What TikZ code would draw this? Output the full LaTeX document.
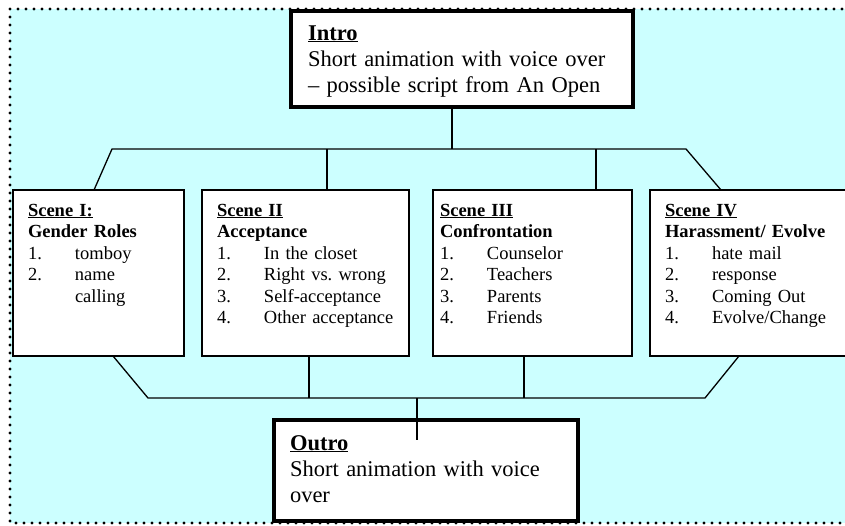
\documentclass[tikz,border=0pt]{standalone}
\usepackage{fontspec}
\setmainfont{Liberation Serif}
\usepackage{tikz}
\usetikzlibrary{positioning}
\definecolor{bgcyan}{HTML}{CCFFFF}
\newcommand{\hd}[1]{\underline{\textbf{#1}}}
\newcommand{\itm}[2]{\makebox[47pt][l]{#1}#2}
\frenchspacing

\begin{document}
\begin{tikzpicture}[x=1pt, y=-1pt,
    endbox/.style={draw, line width=3.2pt, fill=white, anchor=north west, outer sep=0pt,
      inner ysep=0pt, align=left, font=\fontsize{22.5pt}{26pt}\selectfont},
    scenebox/.style={draw, line width=2pt, fill=white, anchor=north west, outer sep=0pt,
      inner ysep=0pt, align=left, text height=26pt, text depth=140pt,
      font=\fontsize{18.5pt}{21.5pt}\selectfont},
    link/.style={line width=1.3pt},
    dotborder/.style={line width=3.2pt, dash pattern=on 0pt off 8pt, line cap=round}]
  \useasboundingbox (0,0) rectangle (845,525);

  % Background
  \fill[bgcyan] (10,9) rectangle (850,523);
  \draw[dotborder] (850,9) -- (10,9) -- (10,523) -- (850,523);

  % Intro and outro
  \node[endbox, inner xsep=17pt, text width=308pt, text height=29pt, text depth=67pt]
    (intro) at (291,11) {\hd{Intro}\\ Short animation with voice over\\ \textendash{} possible script from An Open};
  \node[endbox, inner xsep=16pt, text width=272pt, text height=30pt, text depth=71pt]
    (outro) at (274,420) {\hd{Outro}\\ Short animation with voice\\ over};

  % Scenes
  \node[scenebox, inner xsep=15pt, text width=141pt] (s1) at (13,190)
    {\hd{Scene I:}\\ \textbf{Gender Roles}\\ \itm{1.}{tomboy}\\ \itm{2.}{name}\\ \itm{}{calling}};
  \node[scenebox, inner xsep=15pt, text width=177pt] (s2) at (202,190)
    {\hd{Scene II}\\ \textbf{Acceptance}\\ \itm{1.}{In the closet}\\ \itm{2.}{Right vs. wrong}\\
     \itm{3.}{Self-acceptance}\\ \itm{4.}{Other acceptance}};
  \node[scenebox, inner xsep=7pt, text width=185pt] (s3) at (433,190)
    {\hd{Scene III}\\ \textbf{Confrontation}\\ \itm{1.}{Counselor}\\ \itm{2.}{Teachers}\\
     \itm{3.}{Parents}\\ \itm{4.}{Friends}};
  \node[scenebox, inner xsep=15pt, text width=180pt] (s4) at (650,190)
    {\hd{Scene IV}\\ \textbf{Harassment/ Evolve}\\ \itm{1.}{hate mail}\\ \itm{2.}{response}\\
     \itm{3.}{Coming Out}\\ \itm{4.}{Evolve/Change}};

  % Bus coordinates
  \coordinate (topL) at (112,149);
  \coordinate (topR) at (686,149);
  \coordinate (botL) at (148,398);
  \coordinate (botR) at (705,398);
  \path ([xshift=-10pt]intro.south) coordinate (introOut)
        ([xshift=125pt]s2.north west) coordinate (s2in)
        ([xshift=163pt]s3.north west) coordinate (s3in)
        ([xshift=107pt]s2.south west) coordinate (s2out)
        ([xshift=91pt]s3.south west) coordinate (s3out)
        ([xshift=143pt]outro.north west) coordinate (outroIn);

  % Top connectors
  \draw[link] (introOut) -- (introOut |- topL);
  \draw[link] ([xshift=81pt]s1.north west) -- (topL) -- (topR) -- ([xshift=71pt]s4.north west);
  \draw[link] (s2in) -- (s2in |- topL);
  \draw[link] (s3in) -- (s3in |- topL);

  % Bottom connectors
  \draw[link] ([xshift=100pt]s1.south west) -- (botL) -- (botR) -- ([xshift=89pt]s4.south west);
  \draw[link] (s2out) -- (s2out |- botL);
  \draw[link] (s3out) -- (s3out |- botL);
  \draw[link] (outroIn |- botL) -- ([yshift=-20pt]outroIn);
\end{tikzpicture}
\end{document}
